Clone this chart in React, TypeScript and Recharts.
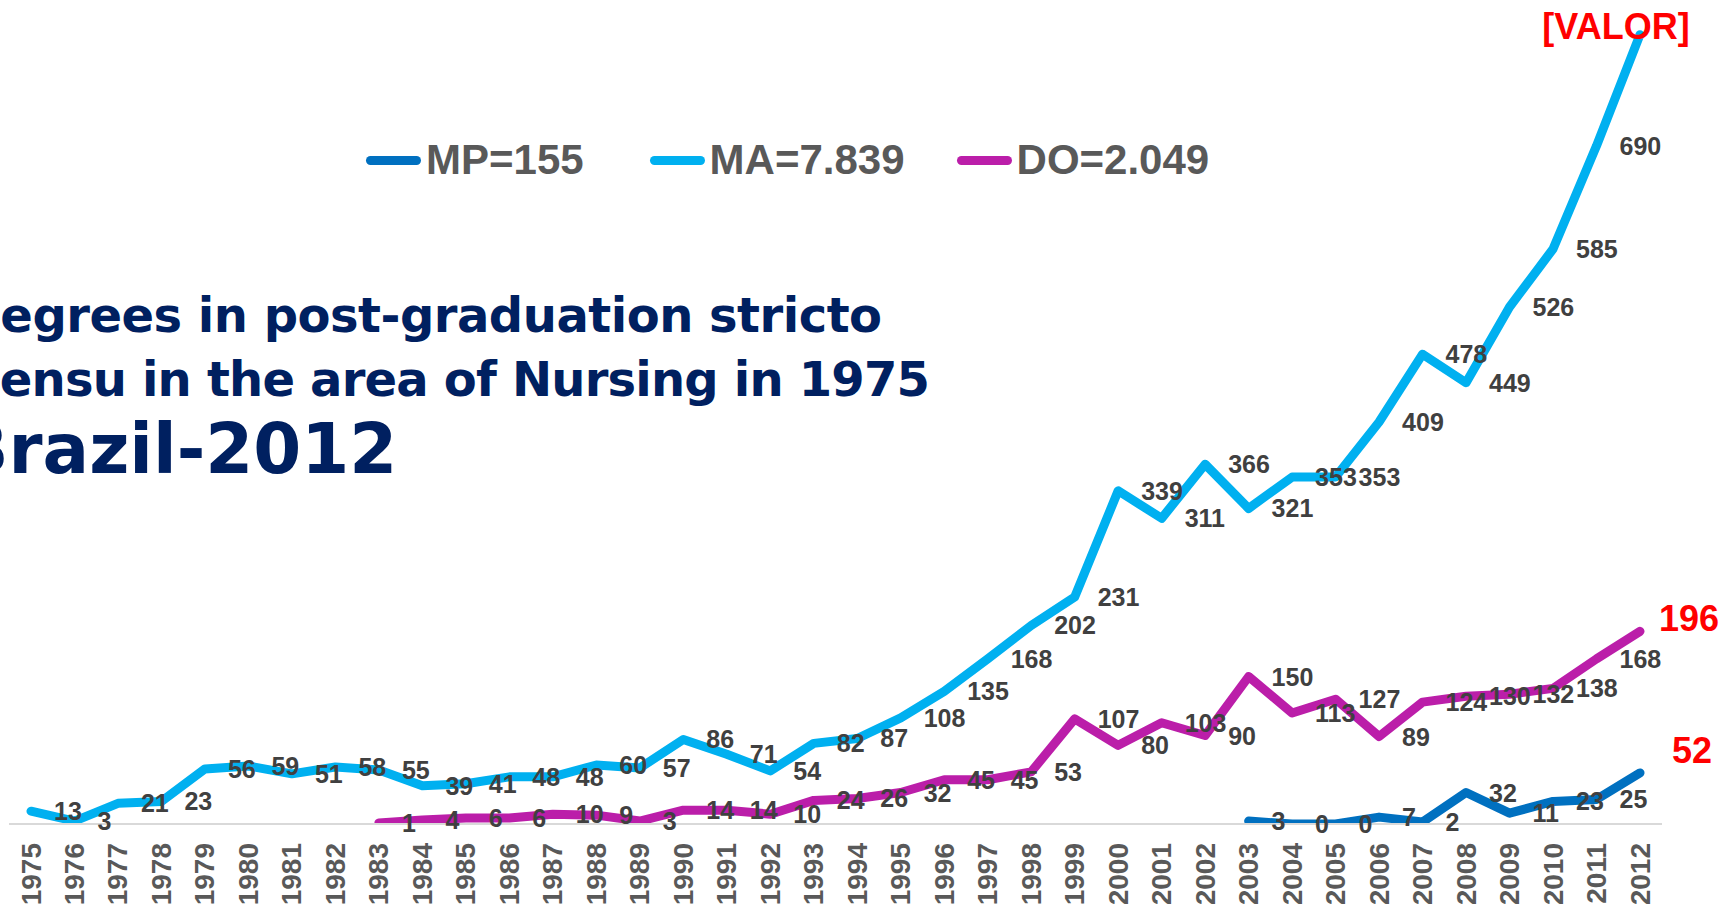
import React from "react";
import { LineChart, Line, XAxis, YAxis, Legend, LabelList } from "recharts";

const years = [
  "1975", "1976", "1977", "1978", "1979", "1980", "1981", "1982", "1983", "1984",
  "1985", "1986", "1987", "1988", "1989", "1990", "1991", "1992", "1993", "1994",
  "1995", "1996", "1997", "1998", "1999", "2000", "2001", "2002", "2003", "2004",
  "2005", "2006", "2007", "2008", "2009", "2010", "2011", "2012",
];

const mpValues: (number | null)[] = [
  null, null, null, null, null, null, null, null, null, null,
  null, null, null, null, null, null, null, null, null, null,
  null, null, null, null, null, null, null, null,
  3, 0, 0, 7, 2, 32, 11, 23, 25, 52,
];

const maValues: (number | null)[] = [
  13, 3, 21, 23, 56, 59, 51, 58, 55, 39,
  41, 48, 48, 60, 57, 86, 71, 54, 82, 87,
  108, 135, 168, 202, 231, 339, 311, 366, 321, 353,
  353, 409, 478, 449, 526, 585, 690, 803,
];

const doValues: (number | null)[] = [
  null, null, null, null, null, null, null, null,
  1, 4, 6, 6, 10, 9, 3, 14, 14, 10,
  24, 26, 32, 45, 45, 53, 107, 80, 103, 90,
  150, 113, 127, 89, 124, 130, 132, 138, 168, 196,
];

const seriesNames = ["MP=155", "MA=7.839", "DO=2.049"];
const lastLabels = ["52", "[VALOR]", "196"];
const titleLines = [
  "Degrees in post-graduation stricto",
  "sensu in the area of Nursing in 1975",
  "Brazil-2012",
];

const data = years.map((year, i) => ({
  year,
  MP: mpValues[i],
  MA: maValues[i],
  DO: doValues[i],
}));

const series = [
  { key: "MP", name: seriesNames[0], color: "#0070C0", last: lastLabels[0], lastDx: 32, lastDy: -22, lastAnchor: "start", gap: 66 },
  { key: "MA", name: seriesNames[1], color: "#00B0F0", last: lastLabels[1], lastDx: -24, lastDy: -8, lastAnchor: "middle", gap: 52 },
  { key: "DO", name: seriesNames[2], color: "#BB1EA9", last: lastLabels[2], lastDx: 19, lastDy: -13, lastAnchor: "start", gap: 0 },
];

const FONT = "'Liberation Sans', Arial, sans-serif";
const TITLE_FONT = "'DejaVu Sans', Verdana, sans-serif";

const makeLabel = (s: any) => (props: any) => {
  const { x, y, value, index } = props;
  if (value === null || value === undefined || x == null || y == null) return null;
  if (index === years.length - 1) {
    return (
      <text
        x={x + s.lastDx}
        y={y + s.lastDy}
        textAnchor={s.lastAnchor}
        dominantBaseline="central"
        fill="#FF0000"
        fontSize={36}
        fontWeight={700}
        fontFamily={FONT}
      >
        {s.last}
      </text>
    );
  }
  return (
    <text
      x={x + 23}
      y={y}
      textAnchor="start"
      dominantBaseline="central"
      fill="#404040"
      fontSize={25}
      fontWeight={700}
      fontFamily={FONT}
    >
      {value}
    </text>
  );
};

const renderTick = (props: any) => {
  const { x, y, payload } = props;
  return (
    <text
      x={x}
      y={y}
      transform={`rotate(-90, ${x}, ${y})`}
      textAnchor="end"
      dominantBaseline="central"
      fill="#595959"
      fontSize={28}
      fontWeight={700}
      fontFamily={FONT}
    >
      {payload.value}
    </text>
  );
};

const renderLegend = () => (
  <div style={{ display: "flex", alignItems: "center", fontFamily: FONT }}>
    {series.map((s) => (
      <div key={s.key} style={{ display: "flex", alignItems: "center", marginRight: s.gap }}>
        <div style={{ width: 55, height: 9, borderRadius: 5, background: s.color }} />
        <span
          style={{
            marginLeft: 5,
            fontSize: 42,
            fontWeight: 700,
            color: "#595959",
            lineHeight: "48px",
            whiteSpace: "nowrap",
          }}
        >
          {s.name}
        </span>
      </div>
    ))}
  </div>
);

export default function App() {
  return (
    <div style={{ position: "absolute", left: 0, top: 0, width: 1723, height: 904, overflow: "hidden", background: "#fff" }}>
      <LineChart
        width={1723}
        height={904}
        data={data}
        margin={{ top: 18, right: 61, bottom: 0, left: 9 }}
      >
        <XAxis
          dataKey="year"
          height={80}
          padding={{ left: 22, right: 22 }}
          axisLine={{ stroke: "#D9D9D9", strokeWidth: 2 }}
          tickLine={false}
          tickSize={0}
          tickMargin={19}
          interval={0}
          tick={renderTick}
        />
        <YAxis hide type="number" domain={[0, 820]} allowDataOverflow ticks={[0, 820]} />
        <Legend
          layout="horizontal"
          verticalAlign="middle"
          align="center"
          content={renderLegend}
          wrapperStyle={{ top: 136, left: 366, width: "auto" }}
        />
        {series.map((s) => (
          <Line
            key={s.key}
            type="linear"
            dataKey={s.key}
            name={s.name}
            stroke={s.color}
            strokeWidth={9}
            strokeLinecap="round"
            strokeLinejoin="round"
            dot={false}
            activeDot={false}
            isAnimationActive={false}
          >
            <LabelList dataKey={s.key} content={makeLabel(s)} />
          </Line>
        ))}
      </LineChart>
      <svg
        width={1723}
        height={904}
        style={{ position: "absolute", left: 0, top: 0, pointerEvents: "none" }}
      >
        <text x={-39} y={332} fontFamily={TITLE_FONT} fontWeight={700} fontSize={48} letterSpacing={-0.5} fill="#002060">
          {titleLines[0]}
        </text>
        <text x={-28} y={396} fontFamily={TITLE_FONT} fontWeight={700} fontSize={48} letterSpacing={-0.8} fill="#002060">
          {titleLines[1]}
        </text>
        <text x={-44} y={473} fontFamily={TITLE_FONT} fontWeight={700} fontSize={69} fill="#002060">
          {titleLines[2]}
        </text>
      </svg>
    </div>
  );
}
